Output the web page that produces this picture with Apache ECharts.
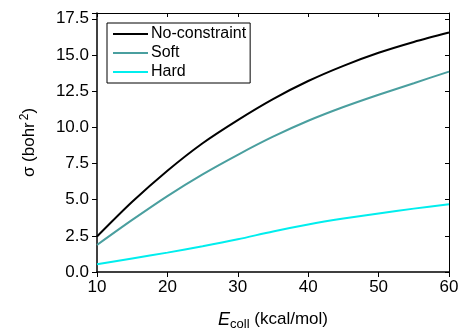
<!DOCTYPE html>
<html>
<head>
<meta charset="utf-8">
<script src="https://cdn.jsdelivr.net/npm/echarts@6/dist/echarts.min.js"></script>
<style>
  html, body { margin: 0; padding: 0; background: #fff; }
  #chart { width: 460px; height: 332px; }
</style>
</head>
<body>
<div id="chart"></div>
<script>
// collision energy (kcal/mol)
const energies = [10, 15, 20, 25, 30, 35, 40, 45, 50, 55, 60];
// cross sections (bohr^2)
const noConstraint = [2.45, 4.85, 7.0, 8.9, 10.5, 11.95, 13.2, 14.25, 15.15, 15.9, 16.55];
const soft = [1.87, 3.6, 5.25, 6.75, 8.1, 9.35, 10.45, 11.4, 12.25, 13.05, 13.85];
const hard = [0.53, 0.93, 1.34, 1.78, 2.26, 2.8, 3.28, 3.69, 4.05, 4.38, 4.68];

const seriesNames = ['No-constraint', 'Soft', 'Hard'];
const seriesColors = ['#000000', '#4a9f9f', '#00eeee'];

const font = 'Arial, "Liberation Sans", sans-serif';

// split lines stay on (ticks go missing otherwise), just white on white
const whiteGrid = { show: true, lineStyle: { color: '#ffffff' } };

function pairs(ys) {
  return energies.map((x, i) => [x, ys[i]]);
}

function mirrorAxis(extra) {
  return Object.assign({
    type: 'value',
    axisLine: { show: true, onZero: false, lineStyle: { color: '#000', width: 1 } },
    axisTick: { show: true, inside: true, length: 4, lineStyle: { color: '#000', width: 1 } },
    axisLabel: { show: false },
    splitLine: whiteGrid,
  }, extra);
}

const myChart = echarts.init(document.getElementById('chart'));

const option = {
  animation: false,
  textStyle: { fontFamily: font },
  grid: { left: 97, right: 11, top: 13, bottom: 60, outerBoundsMode: 'none' },
  legend: {
    data: seriesNames,
    orient: 'vertical',
    left: 107,
    top: 23,
    itemGap: 3,
    itemWidth: 35,
    itemHeight: 2,
    icon: 'rect',
    borderColor: '#000',
    borderWidth: 1,
    borderRadius: 0,
    padding: [3, 4, 3, 6],
    textStyle: { fontSize: 16, color: '#000', fontFamily: font, padding: [0, 0, 0, -2] },
  },
  xAxis: [
    {
      type: 'value',
      min: 10,
      max: 60,
      interval: 10,
      name: '{i|E}{sub|coll} (kcal/mol)',
      nameLocation: 'middle',
      nameGap: 36,
      nameTextStyle: {
        fontSize: 17,
        color: '#000',
        rich: {
          i: { fontSize: 18, fontStyle: 'italic', color: '#000', fontFamily: font },
          sub: { fontSize: 13, color: '#000', fontFamily: font, padding: [10, 0, 0, 0] },
        },
      },
      axisLine: { show: true, onZero: false, lineStyle: { color: '#000', width: 1.5 } },
      axisTick: { show: true, length: 5, lineStyle: { color: '#000', width: 1 } },
      axisLabel: { fontSize: 17, color: '#000', margin: 7 },
      splitLine: whiteGrid,
    },
    mirrorAxis({ position: 'top', min: 10, max: 60, interval: 10 }),
  ],
  yAxis: [
    {
      type: 'value',
      min: 0,
      max: 17.9,
      interval: 2.5,
      name: 'σ (bohr{sup|2})',
      nameLocation: 'middle',
      nameGap: 57,
      nameTextStyle: {
        fontSize: 17,
        color: '#000',
        rich: {
          sup: { fontSize: 12, color: '#000', fontFamily: font, padding: [0, 0, 9, 2] },
        },
      },
      axisLine: { show: true, onZero: false, lineStyle: { color: '#000', width: 1.5 } },
      axisTick: { show: true, length: 5, lineStyle: { color: '#000', width: 1 } },
      axisLabel: {
        fontSize: 17,
        color: '#000',
        margin: 8,
        formatter: v => (Math.abs(v / 2.5 - Math.round(v / 2.5)) < 1e-6 ? v.toFixed(1) : ''),
      },
      splitLine: whiteGrid,
    },
    mirrorAxis({ position: 'right', min: 0, max: 17.9, interval: 2.5 }),
  ],
  series: [noConstraint, soft, hard].map((ys, i) => ({
    name: seriesNames[i],
    type: 'line',
    xAxisIndex: 0,
    yAxisIndex: 0,
    data: pairs(ys),
    smooth: 0.3,
    symbol: 'none',
    lineStyle: { color: seriesColors[i], width: 2 },
    itemStyle: { color: seriesColors[i] },
  })),
};

option && myChart.setOption(option);
</script>
</body>
</html>
